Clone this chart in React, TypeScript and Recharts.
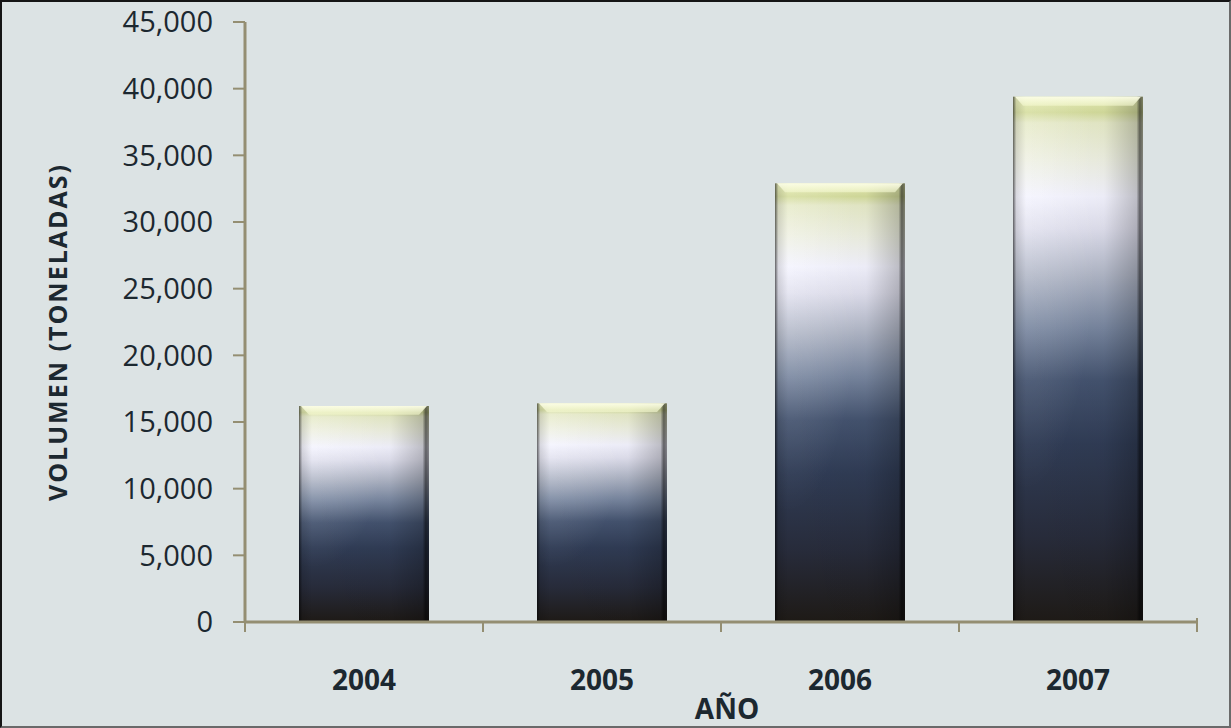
import { BarChart, Bar, XAxis, YAxis } from "recharts";

const years = ["2004", "2005", "2006", "2007"];
const volumes = [16200, 16400, 32900, 39400];
const yTicks = [0, 5000, 10000, 15000, 20000, 25000, 30000, 35000, 40000, 45000];

const data = years.map((year, i) => ({ year, volume: volumes[i] }));

const AXIS = "#948e72";
const INK = "#1c2830";
const FONT = "'Open Sans', 'DejaVu Sans', sans-serif";

// glossy bar: vertical colour ramp + side shading + bevelled light rim on top
const GlossyBar = (props: any) => {
  const { x, y, width, height } = props;
  if (!height || height <= 0) return null;
  const rim = Math.min(9, height * 0.04);
  const bevel = `${x + 2},${y} ${x + width - 2},${y} ${x + width - 10},${y + rim} ${x + 10},${y + rim}`;
  return (
    <g>
      <rect x={x} y={y} width={width} height={height} fill="url(#barV)" />
      <rect x={x} y={y} width={width} height={height} fill="url(#barGlow)" />
      <rect x={x} y={y} width={width} height={height} fill="url(#barH)" />
      <polygon points={bevel} fill="url(#rim)" />
    </g>
  );
};

// category label + boundary tick marks
const YearTick = (props: any) => {
  const { x, y, payload, index, width, visibleTicksCount } = props;
  const count = visibleTicksCount || years.length;
  const band = (width || 952) / count;
  const left = x - band / 2;
  return (
    <g>
      <line x1={left} y1={y} x2={left} y2={y + 10} stroke={AXIS} strokeWidth={2} />
      {index === count - 1 && (
        <line x1={x + band / 2} y1={y - 4} x2={x + band / 2} y2={y + 10} stroke={AXIS} strokeWidth={2} />
      )}
      <text
        x={x}
        y={y + 68}
        textAnchor="middle"
        fill={INK}
        fontFamily={FONT}
        fontWeight={700}
        fontSize={28}
      >
        {payload.value}
      </text>
    </g>
  );
};

const YTitle = (props: any) => {
  const vb = props.viewBox || { x: 0, y: 22, height: 600 };
  const cx = vb.x + 57;
  const cy = vb.y + vb.height / 2 + 10;
  return (
    <text
      x={cx}
      y={cy}
      transform={`rotate(-90 ${cx} ${cy})`}
      textAnchor="middle"
      dominantBaseline="central"
      fill={INK}
      fontFamily={FONT}
      fontWeight={700}
      fontSize={25}
      letterSpacing={2}
    >
      VOLUMEN (TONELADAS)
    </text>
  );
};

const XTitle = (props: any) => {
  const vb = props.viewBox || { x: 245, y: 622, width: 952, height: 106 };
  return (
    <text
      x={vb.x + vb.width / 2 + 6}
      y={vb.y + vb.height - 9}
      textAnchor="middle"
      fill={INK}
      fontFamily={FONT}
      fontWeight={700}
      fontSize={28}
    >
      AÑO
    </text>
  );
};

export default function App() {
  return (
    <div
      style={{
        position: "absolute",
        left: 0,
        top: 0,
        width: 1231,
        height: 728,
        background: "#dce3e4",
      }}
    >
      <BarChart
        width={1231}
        height={728}
        data={data}
        margin={{ top: 22, right: 34, bottom: 0, left: 0 }}
      >
        <defs>
          <linearGradient id="barV" x1="0" y1="0" x2="0" y2="1">
            <stop offset="0" stopColor="#e8eeb8" />
            <stop offset="0.03" stopColor="#d4dc9c" />
            <stop offset="0.05" stopColor="#e6eac8" />
            <stop offset="0.12" stopColor="#eef0e2" />
            <stop offset="0.19" stopColor="#f3f3fe" />
            <stop offset="0.25" stopColor="#e0e0ee" />
            <stop offset="0.34" stopColor="#b0b6c6" />
            <stop offset="0.44" stopColor="#78869f" />
            <stop offset="0.54" stopColor="#44536f" />
            <stop offset="0.66" stopColor="#303c55" />
            <stop offset="0.84" stopColor="#272b3a" />
            <stop offset="1" stopColor="#1e1a16" />
          </linearGradient>
          <radialGradient id="barGlow" cx="0.1" cy="0.2" r="0.55">
            <stop offset="0" stopColor="#ffffff" stopOpacity={0.18} />
            <stop offset="1" stopColor="#ffffff" stopOpacity={0} />
          </radialGradient>
          <linearGradient id="barH" x1="0" y1="0" x2="1" y2="0">
            <stop offset="0" stopColor="#000" stopOpacity={0.6} />
            <stop offset="0.025" stopColor="#000" stopOpacity={0.12} />
            <stop offset="0.1" stopColor="#000" stopOpacity={0} />
            <stop offset="0.7" stopColor="#000" stopOpacity={0.03} />
            <stop offset="0.95" stopColor="#000" stopOpacity={0.22} />
            <stop offset="0.975" stopColor="#000" stopOpacity={0.6} />
            <stop offset="1" stopColor="#000" stopOpacity={0.45} />
          </linearGradient>
          <linearGradient id="rim" x1="0" y1="0" x2="0" y2="1">
            <stop offset="0" stopColor="#fbfde6" stopOpacity={0.95} />
            <stop offset="1" stopColor="#f4f8d0" stopOpacity={0.6} />
          </linearGradient>
        </defs>
        <XAxis
          dataKey="year"
          height={106}
          axisLine={{ stroke: AXIS, strokeWidth: 3 }}
          tickLine={false}
          tickSize={0}
          tickMargin={0}
          interval={0}
          tick={<YearTick />}
          label={{ value: "AÑO", content: <XTitle /> }}
        />
        <YAxis
          width={245}
          domain={[0, 45000]}
          ticks={yTicks}
          interval={0}
          axisLine={{ stroke: AXIS, strokeWidth: 3 }}
          tickLine={{ stroke: AXIS, strokeWidth: 2 }}
          tickSize={12}
          tickMargin={20}
          tickFormatter={(v) => v.toLocaleString("en-US")}
          tick={{ fill: INK, fontSize: 29, fontFamily: FONT }}
          label={{ value: "VOLUMEN (TONELADAS)", content: <YTitle /> }}
        />
        <Bar
          dataKey="volume"
          barSize={130}
          shape={<GlossyBar />}
          isAnimationActive={false}
        />
      </BarChart>
      <div
        style={{
          position: "absolute",
          inset: 0,
          borderTop: "2px solid #151515",
          borderLeft: "2px solid #151515",
          borderRight: "2px solid #6a6a6a",
          borderBottom: "2px solid #6a6a6a",
          pointerEvents: "none",
        }}
      />
    </div>
  );
}
